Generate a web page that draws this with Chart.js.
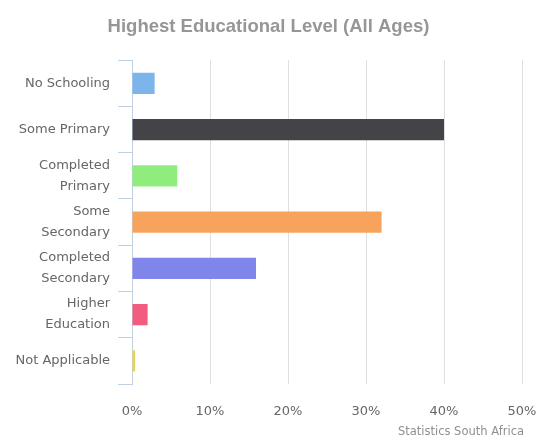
<!DOCTYPE html>
<html lang="en">
<head>
  <meta charset="UTF-8">
  <title>Highest Educational Level</title>
  <script src="https://cdn.jsdelivr.net/npm/chart.js"></script>
  <style>
    html, body {
      margin: 0;
      padding: 0;
      background: #fff;
    }
    .wrap {
      width: 540px;
      height: 439px;
    }
  </style>
</head>
<body>
  <div class="wrap"><canvas id="eduChart"></canvas></div>

  <script>
    // data
    const levels = [
      ['No Schooling'],
      ['Some Primary'],
      ['Completed', 'Primary'],
      ['Some', 'Secondary'],
      ['Completed', 'Secondary'],
      ['Higher', 'Education'],
      ['Not Applicable']
    ];
    const shares = [2.9, 40.0, 5.8, 32.0, 15.9, 2.0, 0.4];
    const xTicks = [0, 10, 20, 30, 40, 50];
    const barColors = ['#7cb5ec', '#434348', '#90ed7d', '#f7a35c', '#8085e9', '#f15c80', '#e4d354'];

    const creditPlugin = {
      id: 'credit',
      afterDraw(chart) {
        const ctx = chart.ctx;
        ctx.save();
        ctx.font = '11.5px "DejaVu Sans"';
        ctx.fillStyle = '#909090';
        ctx.textAlign = 'right';
        ctx.textBaseline = 'middle';
        ctx.fillText('Statistics South Africa', 524, 432);
        ctx.restore();
      }
    };

    new Chart(document.getElementById('eduChart').getContext('2d'), {
      type: 'bar',
      data: {
        labels: levels,
        datasets: [{
          data: shares,
          backgroundColor: barColors,
          borderWidth: 0,
          categoryPercentage: 1,
          barPercentage: 0.46
        }]
      },
      options: {
        indexAxis: 'y',
        responsive: true,
        maintainAspectRatio: false,
        animation: false,
        layout: { padding: { left: 0, right: 3, top: 0, bottom: 0 } },
        plugins: {
          legend: { display: false },
          tooltip: { enabled: false },
          title: {
            display: true,
            text: 'Highest Educational Level (All Ages)',
            color: '#969696',
            font: { family: '"Liberation Sans"', size: 18.5, weight: 'bold', lineHeight: 1.2 },
            padding: { top: 16, bottom: 22 }
          }
        },
        scales: {
          x: {
            min: 0,
            max: 50,
            afterBuildTicks(scale) {
              scale.ticks = xTicks.map(v => ({ value: v }));
            },
            afterFit(scale) {
              scale.height = 55;
              scale.paddingLeft = 0;
              scale.paddingRight = 18;
            },
            border: { display: false },
            grid: { color: '#e0e0e0', drawTicks: false },
            ticks: {
              padding: 20,
              color: '#666',
              font: { family: '"DejaVu Sans"', size: 13 },
              callback: v => v + '%'
            }
          },
          y: {
            afterFit(scale) { scale.width = 132; },
            border: { display: true, color: '#c0d0e0', width: 1 },
            grid: {
              offset: true,
              drawOnChartArea: false,
              drawTicks: true,
              tickLength: 14,
              color: '#c0d0e0'
            },
            ticks: {
              padding: 8,
              color: '#666',
              font: { family: '"DejaVu Sans"', size: 13, lineHeight: '21px' }
            }
          }
        }
      },
      plugins: [creditPlugin]
    });
  </script>
</body>
</html>
